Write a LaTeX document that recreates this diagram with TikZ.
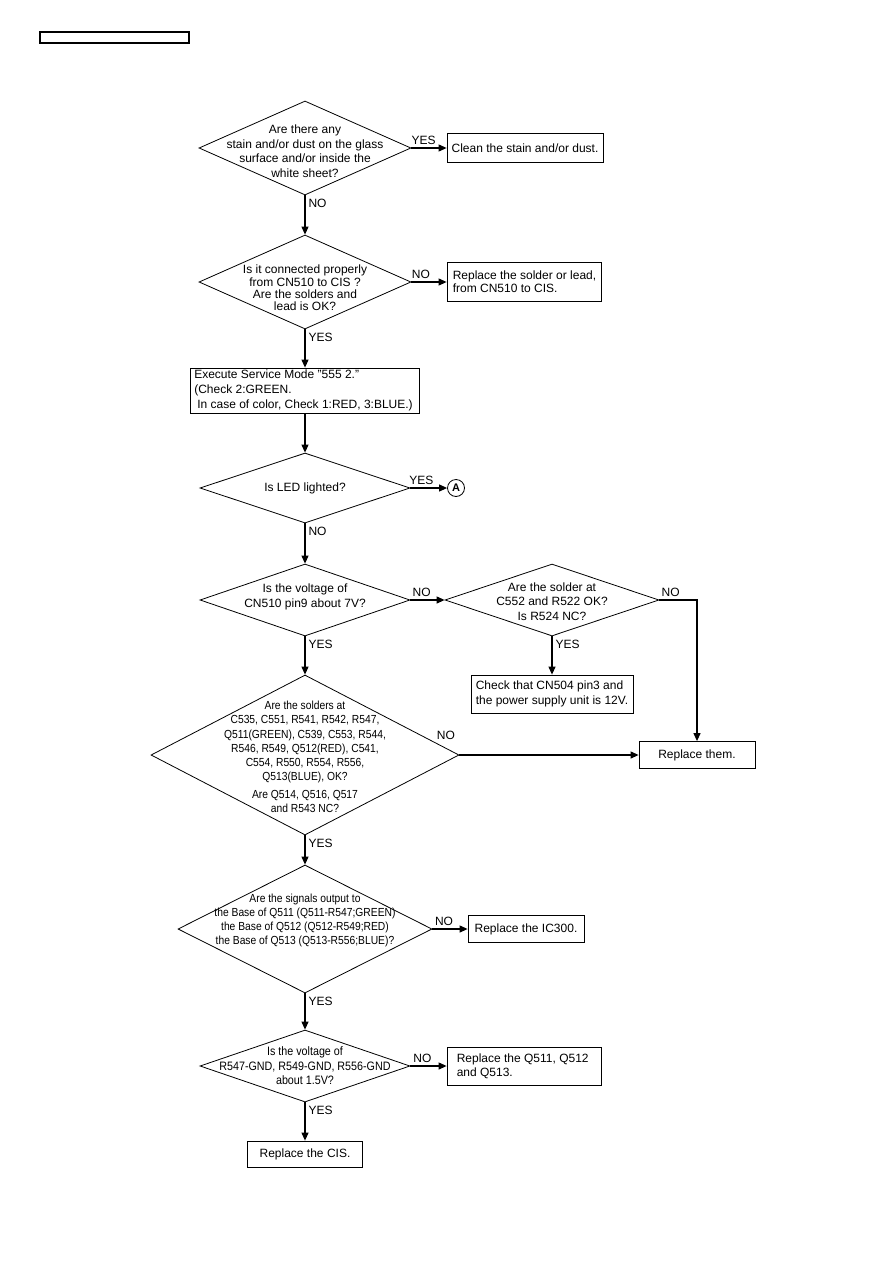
\documentclass[tikz,border=0pt]{standalone}
\usepackage{fontspec}
\setmainfont{Liberation Sans}
\newfontfamily\narrowsf[FakeStretch=0.88]{Liberation Sans}
\usetikzlibrary{shapes.geometric,arrows.meta}

\begin{document}
\begin{tikzpicture}[x=1pt,y=-1pt,
    every node/.style={font=\fontsize{12pt}{14.5pt}\selectfont},
    dec/.style={draw,diamond,inner sep=0pt,line width=0.8pt},
    box/.style={draw,rectangle,line width=0.8pt,inner sep=0pt},
    ltext/.style={anchor=west,align=left,inner sep=0pt},
    ans/.style={inner sep=1pt},
    flow/.style={line width=1.1pt,-{Triangle[length=8pt,width=7pt]}}]
    \useasboundingbox (0,0) rectangle (893,1263);
    \node[draw,line width=1.1pt,minimum width=149pt,minimum height=11pt,inner sep=0pt] (hdr) at (114.5,37.5) {};

    \node[dec,minimum width=212pt,minimum height=94pt] (q1) at (305,148) {};
    \node[align=center] (q1t) at (305,151) {Are there any\\stain and/or dust on the glass\\surface and/or inside the\\white sheet?};
    \node[box,minimum width=156pt,minimum height=29pt] (clean) at (525,148) {Clean the stain and/or dust.};

    \node[dec,minimum width=212pt,minimum height=94pt] (q2) at (305,282) {};
    \node[align=center,font=\fontsize{12pt}{12.3pt}\selectfont] (q2t) at (305,288) {Is it connected properly\\from CN510 to CIS ?\\Are the solders and\\lead is OK?};
    \node[box,minimum width=154pt,minimum height=39pt] (solder) at (524,282) {};
    \node[ltext,font=\fontsize{12pt}{13.3pt}\selectfont] (soldert) at ([xshift=6pt]solder.west) {Replace the solder or lead,\\from CN510 to CIS.};

    \node[box,minimum width=229pt,minimum height=45pt] (svc) at (305,390.5) {};
    \node[ltext,font=\fontsize{12pt}{15pt}\selectfont] (svct) at ([xshift=4pt]svc.west) {Execute Service Mode "555 2."\\(Check 2:GREEN.\\\hspace*{3pt}In case of color, Check 1:RED, 3:BLUE.)};

    \node[dec,minimum width=210pt,minimum height=70pt] (q3) at (305,488) {};
    \node (q3t) at (305,488) {Is LED lighted?};
    \node[draw,circle,line width=0.8pt,minimum size=17pt,inner sep=0pt,font=\fontsize{11pt}{12pt}\selectfont\bfseries] (ca) at (456,488) {A};

    \node[dec,minimum width=210pt,minimum height=72pt] (q4) at (305,600) {};
    \node[align=center,font=\fontsize{12pt}{15pt}\selectfont] (q4t) at (305,596.5) {Is the voltage of\\CN510 pin9 about 7V?};

    \node[dec,minimum width=214pt,minimum height=72pt] (q5) at (552,600) {};
    \node[align=center,font=\fontsize{12pt}{14.3pt}\selectfont] (q5t) at (552,601.5) {Are the solder at\\C552 and R522 OK?\\Is R524 NC?};
    \node[box,minimum width=162pt,minimum height=38pt] (chk) at (552,694) {};
    \node[ltext] (chkt) at ([xshift=5pt]chk.west) {Check that CN504 pin3 and\\the power supply unit is 12V.};
    \node[box,minimum width=116pt,minimum height=27pt] (repl) at (697,755) {Replace them.};

    \node[dec,minimum width=308pt,minimum height=160pt] (q6) at (305,755) {};
    \node[align=center,font=\fontsize{11.7pt}{14.3pt}\narrowsf] (q6t) at (305,757) {Are the solders at\\C535, C551, R541, R542, R547,\\Q511(GREEN), C539, C553, R544,\hspace*{32pt}\\R546, R549, Q512(RED), C541,\hspace*{32pt}\\C554, R550, R554, R556,\hspace*{32pt}\\Q513(BLUE), OK?\hspace*{10pt}\\[3.4pt]Are Q514, Q516, Q517\\and R543 NC?};

    \node[dec,minimum width=254pt,minimum height=128pt] (q7) at (305,929) {};
    \node[align=center,font=\fontsize{11.7pt}{14.3pt}\narrowsf] (q7t) at (305,920.5) {Are the signals output to\\the Base of Q511 (Q511-R547;GREEN)\\the Base of Q512 (Q512-R549;RED)\\the Base of Q513 (Q513-R556;BLUE)?};
    \node[box,minimum width=116pt,minimum height=27pt] (ic) at (526,929) {Replace the IC300.};

    \node[dec,minimum width=210pt,minimum height=72pt] (q8) at (305,1066) {};
    \node[align=center,font=\fontsize{12.2pt}{14.5pt}\narrowsf] (q8t) at (305,1066) {Is the voltage of\\R547-GND, R549-GND, R556-GND\\about 1.5V?};
    \node[box,minimum width=154pt,minimum height=38pt] (qrep) at (524,1066) {};
    \node[ltext,font=\fontsize{12pt}{14pt}\selectfont] (qrept) at ([xshift=10pt]qrep.west) {Replace the Q511, Q512\\and Q513.};
    \node[box,minimum width=115pt,minimum height=26pt] (cis) at (305,1154) {Replace the CIS.};

    \draw[flow] (q1.east) -- node[ans,pos=0.35,above=2pt] {YES} (clean.west);
    \draw[flow] (q1.south) -- node[ans,pos=0,anchor=north west,xshift=2pt,yshift=-2pt] {NO} (q2.north);
    \draw[flow] (q2.east) -- node[ans,pos=0.27,above=2pt] {NO} (solder.west);
    \draw[flow] (q2.south) -- node[ans,pos=0,anchor=north west,xshift=2pt,yshift=-2pt] {YES} (svc.north);
    \draw[flow] (svc.south) -- (q3.north);
    \draw[flow] (q3.east) -- node[ans,pos=0.3,above=2pt] {YES} (ca.west);
    \draw[flow] (q3.south) -- node[ans,pos=0,anchor=north west,xshift=2pt,yshift=-2pt] {NO} (q4.north);
    \draw[flow] (q4.east) -- node[ans,pos=0.33,above=2pt] {NO} (q5.west);
    \draw[flow] (q4.south) -- node[ans,pos=0,anchor=north west,xshift=2pt,yshift=-2pt] {YES} (q6.north);
    \draw[flow] (q5.east) -| node[ans,pos=0.15,above=2pt] {NO} (repl.north);
    \draw[flow] (q5.south) -- node[ans,pos=0,anchor=north west,xshift=2pt,yshift=-2pt] {YES} (chk.north);
    \draw[flow] (q6.east) -- node[ans,pos=0,anchor=south east,xshift=-3pt,yshift=14pt] {NO} (repl.west);
    \draw[flow] (q6.south) -- node[ans,pos=0,anchor=north west,xshift=2pt,yshift=-2pt] {YES} (q7.north);
    \draw[flow] (q7.east) -- node[ans,pos=0.33,above=2pt] {NO} (ic.west);
    \draw[flow] (q7.south) -- node[ans,pos=0,anchor=north west,xshift=2pt,yshift=-2pt] {YES} (q8.north);
    \draw[flow] (q8.east) -- node[ans,pos=0.33,above=2pt] {NO} (qrep.west);
    \draw[flow] (q8.south) -- node[ans,pos=0,anchor=north west,xshift=2pt,yshift=-2pt] {YES} (cis.north);
\end{tikzpicture}
\end{document}
